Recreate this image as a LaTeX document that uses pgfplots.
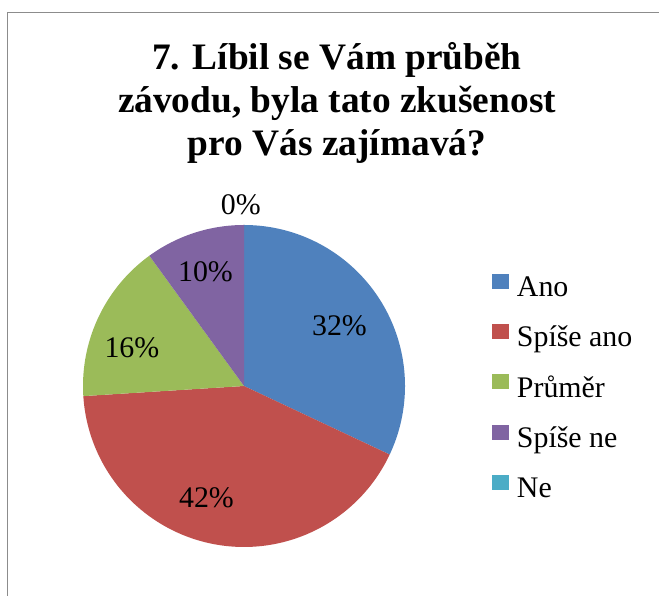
\documentclass[border=0pt]{standalone}
\usepackage{pgfplots}
\pgfplotsset{compat=1.18}
\usepackage{pgfplotstable}
\usepackage{fontspec}
\setmainfont{Liberation Serif}

\definecolor{cAno}{HTML}{4F81BD}
\definecolor{cSpiseAno}{HTML}{C0504D}
\definecolor{cPrumer}{HTML}{9BBB59}
\definecolor{cSpiseNe}{HTML}{8064A2}
\definecolor{cNe}{HTML}{4BACC6}
\definecolor{frame}{RGB}{140,140,140}

% value = number of answers; la, lr = angle and radius (in pie radii) of the data label
\pgfplotstableread{
value color     la     lr
16    cAno      32.1   0.700
21    cSpiseAno -108.5 0.735
8     cPrumer   161.3  0.735
5     cSpiseNe  108.7  0.746
0     cNe       91     1.124
}\piedata

\tikzset{lbl/.style={font=\fontsize{30}{36}\selectfont, inner sep=0pt}}
\pgfplotsset{pie legend/.style={legend image code/.code={%
  \path[draw=none,fill=none] (0bp,0bp) rectangle (25bp,0bp);
  \fill[##1, draw=none] (0bp,-2bp) rectangle (17bp,13bp);}}}

\begin{document}
\begin{tikzpicture}[x=1bp,y=1bp]
\useasboundingbox (0,0) rectangle (659,596);
\draw[frame, line width=1.5bp] (7.5,0) -- (7.5,583.5) -- (659,583.5);
\begin{scope}[font=\bfseries\fontsize{37.5}{44}\selectfont]
\node[anchor=base, inner sep=0pt] at (337,526) {7. Líbil se Vám průběh};
\node[anchor=base, inner sep=0pt] at (337,483) {závodu, byla tato zkušenost};
\node[anchor=base, inner sep=0pt] at (337,440) {pro Vás zajímavá?};
\end{scope}
\begin{axis}[
  at={(244bp,210bp)}, anchor=center,
  scale only axis, width=322bp, height=322bp,
  xmin=-1, xmax=1, ymin=-1, ymax=1,
  hide axis, clip=false,
  legend style={at={(1.270,0.849)}, anchor=north west, draw=none, fill=none,
    inner sep=0pt, outer sep=0pt, row sep=26bp, column sep=0pt,
    nodes={inner sep=0pt},
    font=\fontsize{30}{36}\selectfont},
  legend cell align=left,
]
\pgfplotstablegetrowsof{\piedata}
\pgfmathtruncatemacro\nrows{\pgfplotsretval-1}
\def\total{0}
\pgfplotsforeachungrouped \i in {0,...,\nrows}{%
  \pgfplotstablegetelem{\i}{value}\of\piedata
  \pgfmathsetmacro\total{\total+\pgfplotsretval}%
}
\pgfmathsetmacro\deg{360/\total}
\def\cum{0}
\pgfplotsforeachungrouped \i in {0,...,\nrows}{%
  \pgfplotstablegetelem{\i}{value}\of\piedata \let\v\pgfplotsretval
  \pgfplotstablegetelem{\i}{color}\of\piedata \let\c\pgfplotsretval
  \pgfplotstablegetelem{\i}{la}\of\piedata \let\la\pgfplotsretval
  \pgfplotstablegetelem{\i}{lr}\of\piedata \let\lr\pgfplotsretval
  \pgfmathsetmacro\a{90-\deg*\cum}%
  \pgfmathsetmacro\b{90-\deg*(\cum+\v)}%
  \pgfmathsetmacro\lx{\lr*cos(\la)}%
  \pgfmathsetmacro\ly{\lr*sin(\la)}%
  \pgfmathtruncatemacro\pct{round(100/\total*\v)}%
  \ifdim \v pt>0pt
    \edef\cmd{\noexpand\addplot[fill=\c, draw=none, domain=\b:\a, samples=120, forget plot]
      ({cos(x)},{sin(x)}) -- (axis cs:0,0) -- cycle;}%
    \cmd
  \fi
  \edef\cmd{\noexpand\node[lbl] at (axis cs:\lx,\ly) {\pct\noexpand\%};}%
  \cmd
  \pgfmathsetmacro\cum{\cum+\v}%
}
\addlegendimage{pie legend, fill=cAno}\addlegendentry{\rule[-7bp]{0pt}{28bp}Ano}
\addlegendimage{pie legend, fill=cSpiseAno}\addlegendentry{\rule[-7bp]{0pt}{28bp}Spíše ano}
\addlegendimage{pie legend, fill=cPrumer}\addlegendentry{\rule[-7bp]{0pt}{28bp}Průměr}
\addlegendimage{pie legend, fill=cSpiseNe}\addlegendentry{\rule[-7bp]{0pt}{28bp}Spíše ne}
\addlegendimage{pie legend, fill=cNe}\addlegendentry{\rule[-7bp]{0pt}{28bp}Ne}
\end{axis}
\end{tikzpicture}
\end{document}
